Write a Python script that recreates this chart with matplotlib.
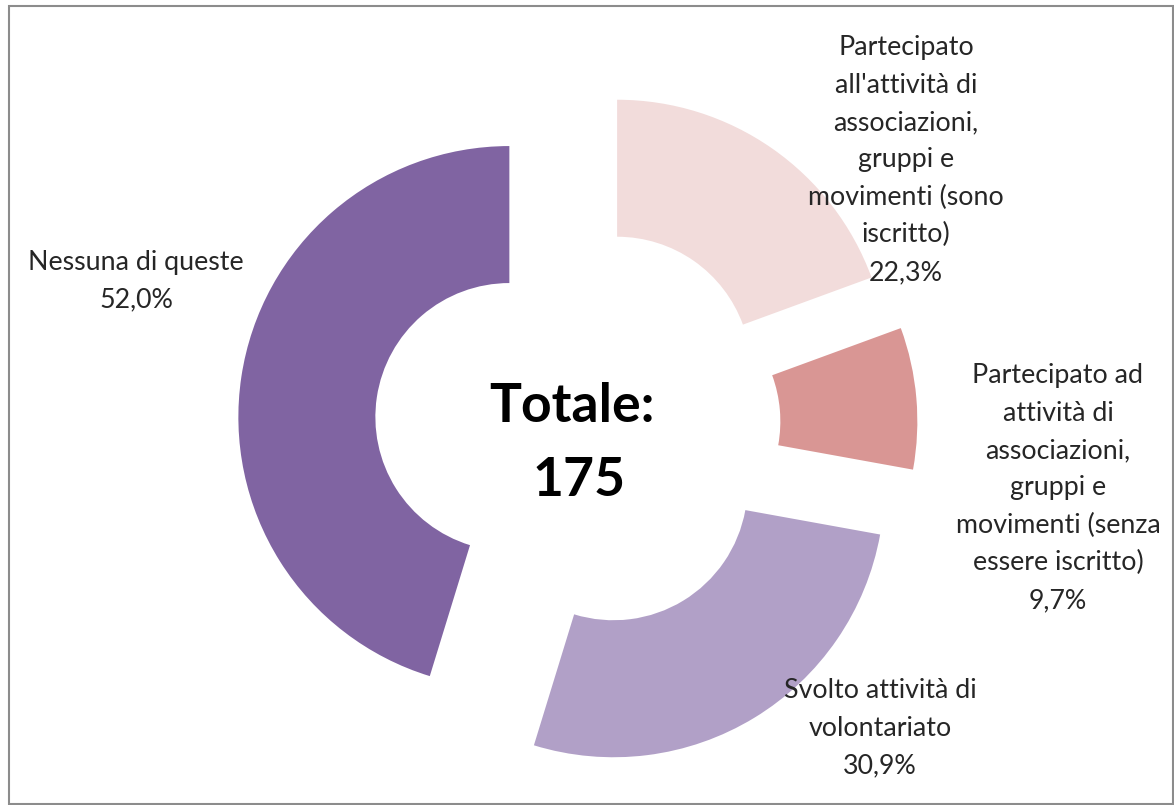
import matplotlib.pyplot as plt
from matplotlib.patches import Rectangle

plt.rcParams['font.family'] = ['Lato', 'DejaVu Sans']

# dati (risposte multiple, le percentuali non sommano a 100)
categorie = [
    "Partecipato\nall'attività di\nassociazioni,\ngruppi e\nmovimenti (sono\niscritto)",
    "Partecipato ad\nattività di\nassociazioni,\ngruppi e\nmovimenti (senza\nessere iscritto)",
    "Svolto attività di\nvolontariato",
    "Nessuna di queste",
]
percentuali = [22.3, 9.7, 30.9, 52.0]
totale = 175

colori = ['#F2DCDB', '#D99694', '#B1A0C7', '#8064A2']
# posizione delle etichette (pixel, origine in alto a sinistra)
pos_etichette = [(906, 160), (1058, 488), (880, 728), (136, 281)]

W, H = 1174, 805
fig = plt.figure(figsize=(W / 100, H / 100), dpi=100)
fig.patch.set_facecolor('white')
ax = fig.add_axes([0, 0, 1, 1])

R = 271
ax.pie(percentuali, radius=R, center=(577.6, H - 427.3), explode=[69] * len(percentuali),
       startangle=90, counterclock=False, colors=colori,
       wedgeprops=dict(width=137, edgecolor='none'))

for cat, p, (x, y) in zip(categorie, percentuali, pos_etichette):
    testo = cat + "\n" + f"{p:.1f}".replace('.', ',') + "%"
    ax.text(x, H - y, testo, ha='center', va='center', fontsize=19.3,
            color='#262626', linespacing=1.62)

ax.text(572, H - 407, "Totale:", ha='center', va='center', fontsize=38.5,
        fontweight='bold', color='black')
ax.text(579, H - 480, str(totale), ha='center', va='center', fontsize=38.5,
        fontweight='bold', color='black')

ax.set_xlim(0, W)
ax.set_ylim(0, H)
ax.set_aspect('equal')
ax.axis('off')

fig.patches.append(Rectangle((9 / W, 1 / H), (W - 10) / W, (H - 7) / H, transform=fig.transFigure,
                             fill=False, edgecolor='#8c8c8c', linewidth=1.5))

fig.savefig('out.png', dpi=100)
